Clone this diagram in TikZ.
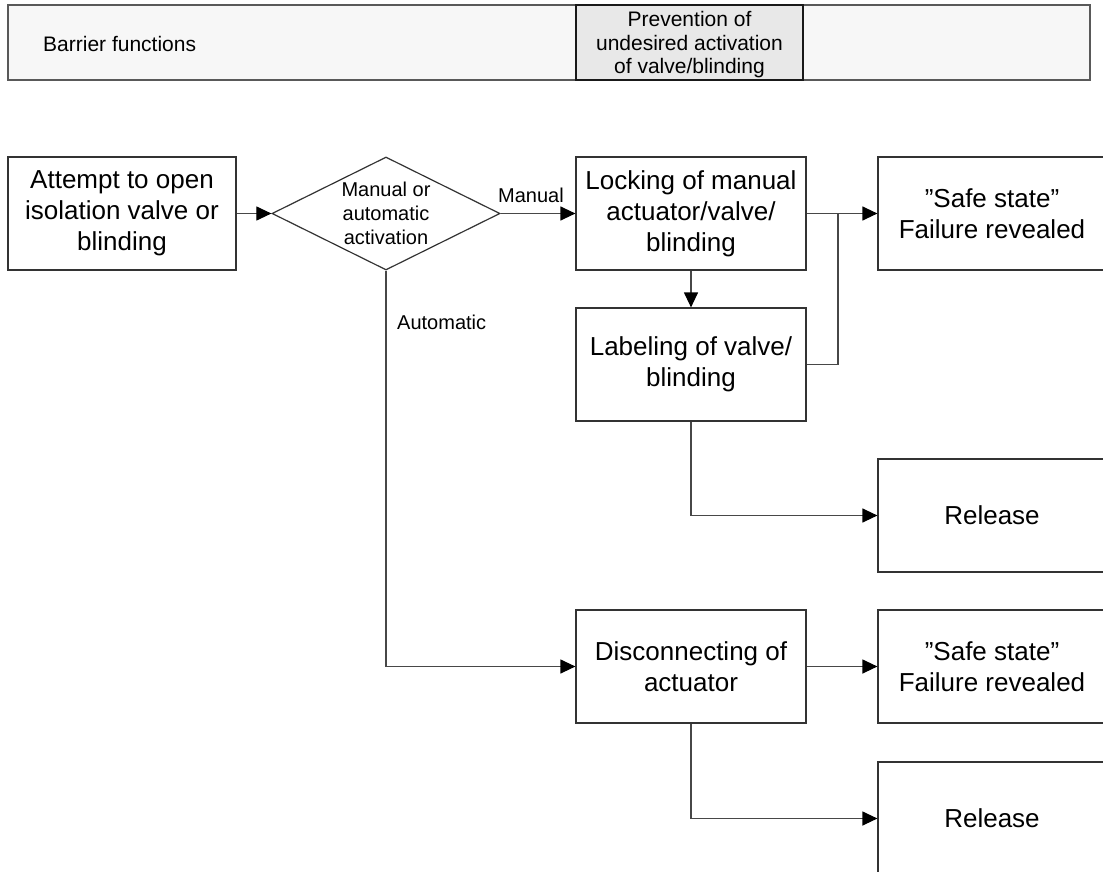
\documentclass[tikz,border=0pt]{standalone}
\usepackage{fontspec}
\setmainfont{Liberation Sans}
\usetikzlibrary{arrows.meta,shapes.geometric}
\begin{document}
\begin{tikzpicture}[x=1pt,y=-1pt,
  line/.style={draw=black!72, line width=1.2pt},
  arr/.style={line, -{Triangle[length=15pt,width=14pt,fill=black,color=black]}},
  stepbox/.style={draw=black!80, line width=1.2pt, rectangle,
    minimum width=230pt, minimum height=113pt, inner sep=0pt,
    align=center, font=\fontsize{26}{31}\selectfont},
  decision/.style={draw=black!80, line width=1.2pt, diamond, aspect=2.02,
    minimum width=228pt, minimum height=113pt, inner sep=0pt,
    align=center, font=\fontsize{20}{24}\selectfont},
  edgelabel/.style={font=\fontsize{20}{22}\selectfont, inner sep=0pt},
  hdrbox/.style={draw=black!65, fill=black!3, line width=1.2pt, rectangle, inner sep=0pt},
  hdrcell/.style={draw=black!90, line width=1.2pt, fill=black!9, rectangle,
    minimum width=227pt, minimum height=75pt, inner sep=0pt},
  hdrtext/.style={align=center, inner sep=0pt, font=\fontsize{21}{23.5}\selectfont},
]
% canvas
\path[use as bounding box] (0,0) rectangle (1103,872);
\clip (0,0) rectangle (1103,872);

% header strip
\node[hdrbox, minimum width=1082pt, minimum height=75pt] (hdr) at (549,42.5) {};
\node[hdrtext, anchor=west] (bf) at (43,44) {Barrier functions};
\node[hdrcell] (prev) at (689.5,42.5) {};
\node[hdrtext] (prevtxt) at (689.5,45) {Prevention of\\undesired activation\\of valve/blinding};

% flow nodes
\node[stepbox, minimum width=228pt] (attempt) at (122,213.5) {Attempt to open\\isolation valve or\\blinding};
\node[decision] (dec) at (386,213.5) {Manual or\\automatic\\activation};
\node[stepbox] (lock) at (691,213.5) {Locking of manual\\actuator/valve/\\blinding};
\node[stepbox, minimum width=228pt] (safeA) at (992,213.5) {”Safe state”\\Failure revealed};
\node[stepbox] (label) at (691,364.5) {Labeling of valve/\\blinding};
\node[stepbox, minimum width=228pt] (relA) at (992,515.5) {Release};
\node[stepbox] (disc) at (691,666.5) {Disconnecting of\\actuator};
\node[stepbox, minimum width=228pt] (safeB) at (992,666.5) {”Safe state”\\Failure revealed};
\node[stepbox, minimum width=228pt] (relB) at (992,818.5) {Release};

\coordinate (jn) at (838,213.5);

% connectors
\draw[arr] (attempt) -- (dec);
\draw[arr] (dec) -- (lock);
\node[edgelabel] (manlbl) at (531,195) {Manual};
\draw[arr] (lock) -- (label);
\draw[arr] (lock) -- (safeA);
\draw[line] (label.east) -| (jn);
\draw[arr] (label.south) |- (relA.west);
\draw[arr] (dec.south) |- (disc.west);
\draw[arr] (disc) -- (safeB);
\draw[arr] (disc.south) |- (relB.west);
\node[edgelabel, anchor=west] (autolbl) at (397,322) {Automatic};
\end{tikzpicture}
\end{document}
